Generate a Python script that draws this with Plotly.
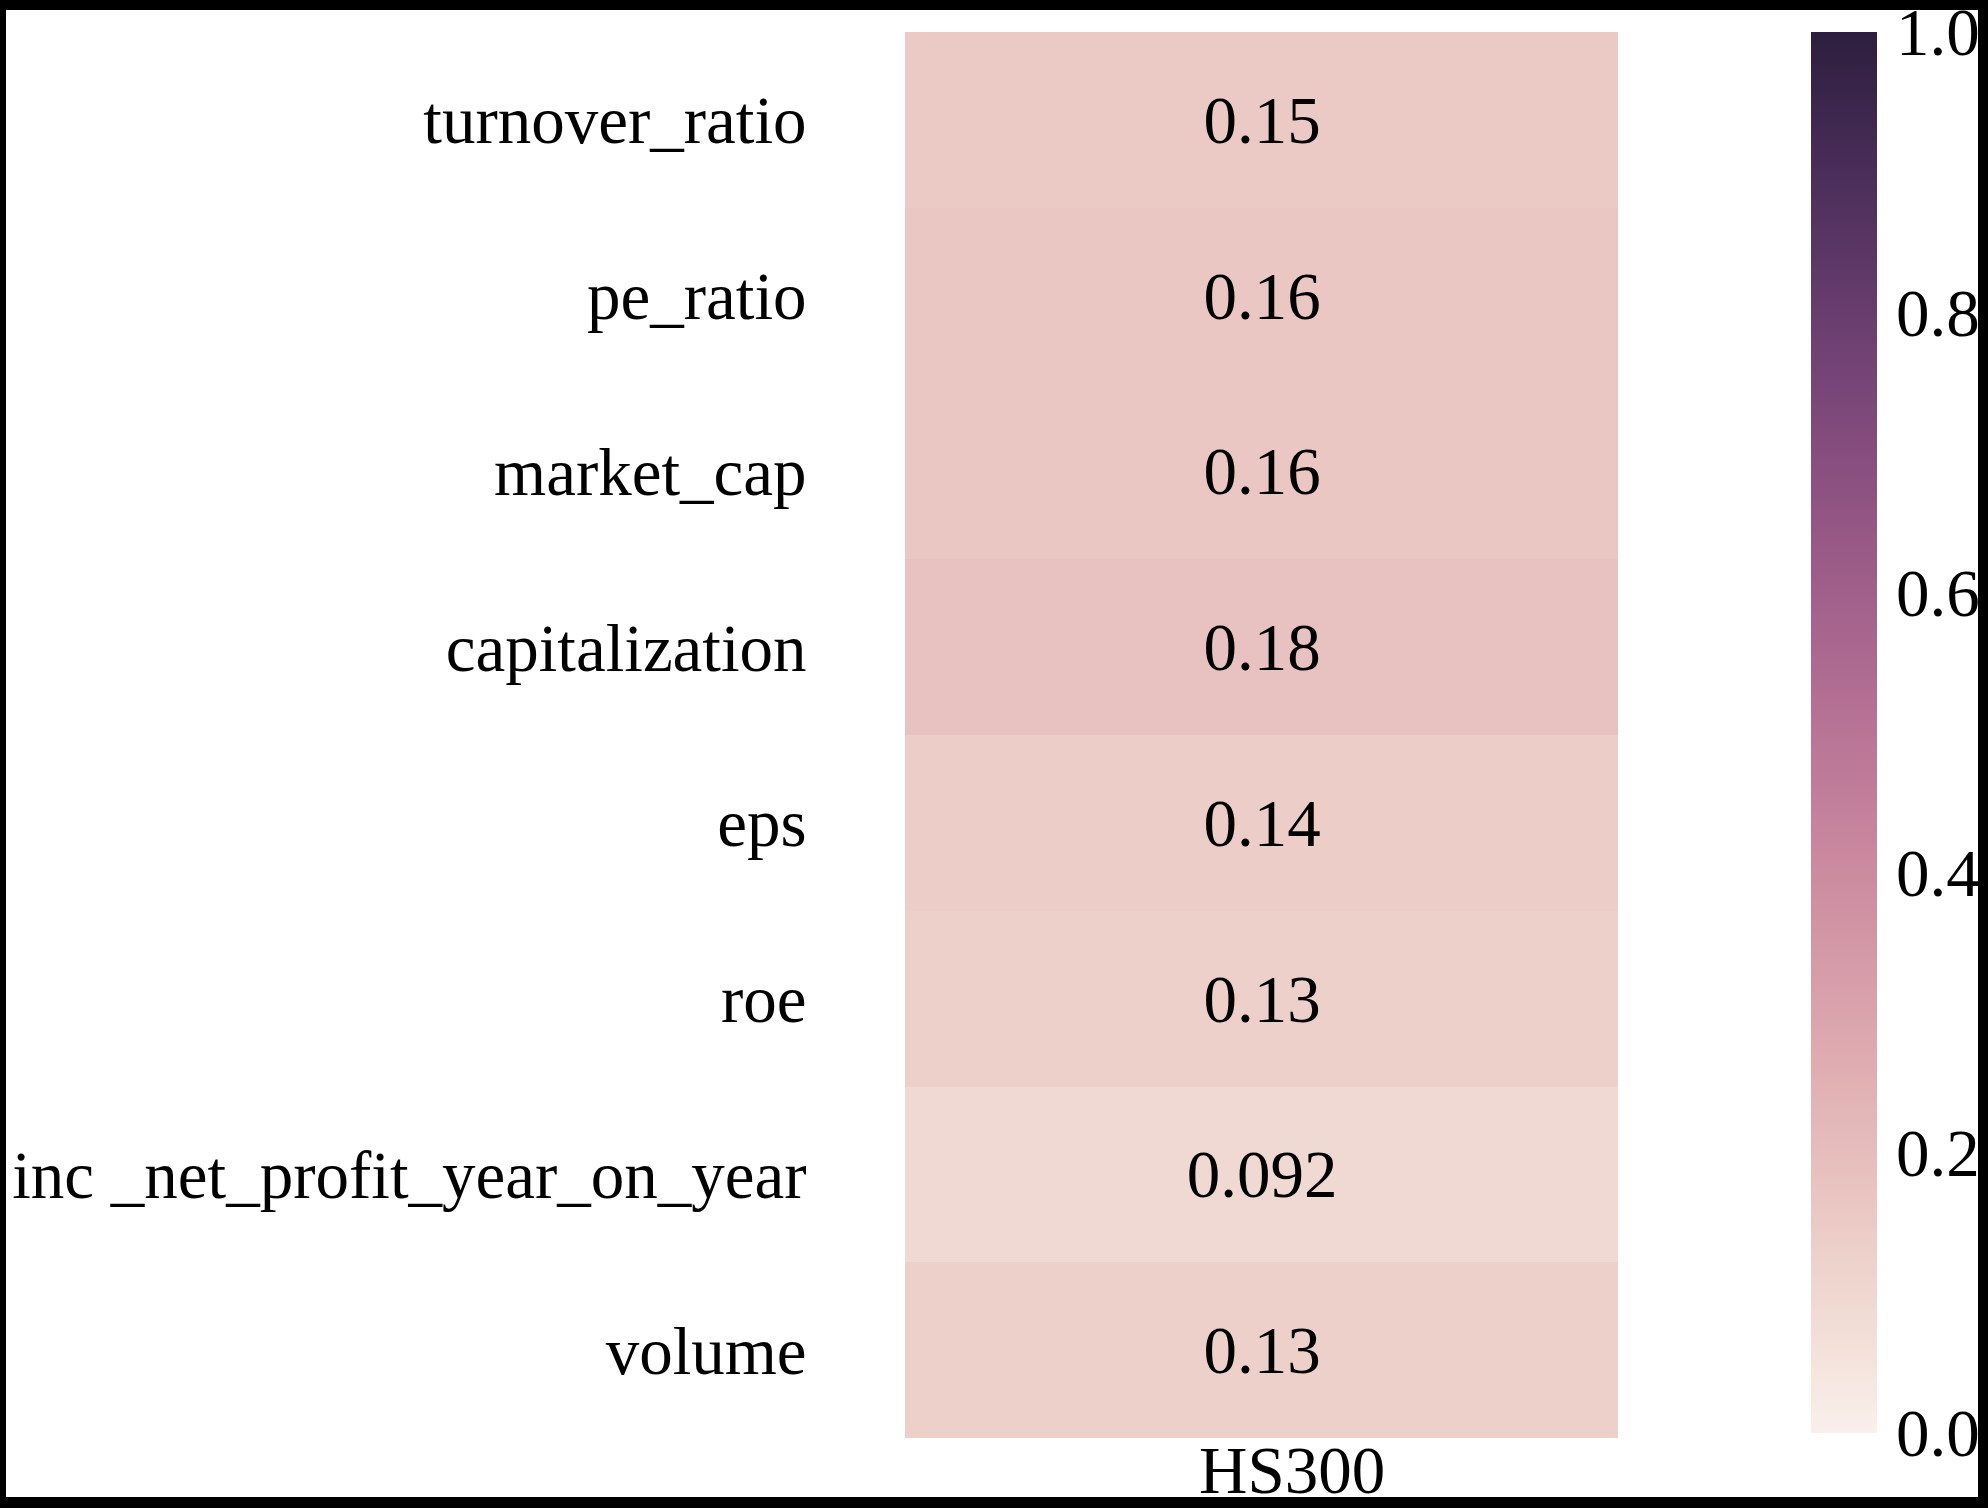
import numpy as np
import plotly.graph_objects as go

# ==========================================================
# DATA
# ==========================================================

factors = [
    "turnover_ratio",
    "pe_ratio",
    "market_cap",
    "capitalization",
    "eps",
    "roe",
    "inc _net_profit_year_on_year",
    "volume",
]
index_names = ["HS300"]
ic_values = [0.15, 0.16, 0.16, 0.18, 0.14, 0.13, 0.092, 0.13]
cbar_ticks = [0.0, 0.2, 0.4, 0.6, 0.8, 1.0]
cbar_labels = ["0.0", "0.2", "0.4", "0.6", "0.8", "1.0"]


# ==========================================================
# COLOUR SCALE (seaborn-style cubehelix, light -> dark)
# ==========================================================

def cubehelix_scale(n=32, start=0.0, rot=0.4, gamma=1.0, hue=0.8,
                    light=0.95, dark=0.15):
    scale = []
    for i, x in enumerate(np.linspace(light, dark, n)):
        xg = x ** gamma
        a = hue * xg * (1 - xg) / 2
        phi = 2 * np.pi * (start / 3 + rot * x)
        r = xg + a * (-0.14861 * np.cos(phi) + 1.78277 * np.sin(phi))
        g = xg + a * (-0.29227 * np.cos(phi) - 0.90649 * np.sin(phi))
        b = xg + a * (1.97294 * np.cos(phi))
        rgb = [int(round(255 * min(max(c, 0), 1))) for c in (r, g, b)]
        scale.append([i / (n - 1), "rgb({},{},{})".format(*rgb)])
    return scale


# ==========================================================
# FIGURE
# ==========================================================

W, H = 1988, 1508
L, R, T, B = 905, 370, 32, 70
pw, ph = W - L - R, H - T - B
SERIF = "Liberation Serif"
FS = 67

fig = go.Figure()

fig.add_trace(
    go.Heatmap(
        z=[[v] for v in ic_values],
        x=index_names,
        y=factors,
        zmin=0,
        zmax=1,
        colorscale=cubehelix_scale(),
        texttemplate="%{z:.2g}",
        textfont=dict(size=FS, color="black", family=SERIF),
        colorbar=dict(
            x=(1811 - L) / pw,
            xanchor="left",
            xpad=0,
            y=1,
            yanchor="top",
            ypad=0,
            len=(1433 - T) / ph,
            lenmode="fraction",
            thickness=66,
            thicknessmode="pixels",
            outlinewidth=0,
            tickvals=cbar_ticks,
            ticktext=cbar_labels,
            ticks="outside",
            ticklen=6,
            tickcolor="rgba(0,0,0,0)",
            ticklabeloverflow="allow",
            tickfont=dict(size=FS, color="black", family=SERIF),
        ),
    )
)

# Column label placed as text under the heatmap
fig.add_annotation(
    text=index_names[0],
    xref="paper", yref="paper",
    x=(1292 - L) / pw, y=(H - B - 1431) / ph,
    xanchor="center", yanchor="top",
    showarrow=False,
    font=dict(size=FS, color="black", family=SERIF),
)


# Black frame round the picture
def px_rect(x0, y0, x1, y1):
    return dict(
        type="rect", xref="paper", yref="paper", layer="above",
        x0=(x0 - L) / pw, x1=(x1 - L) / pw,
        y0=(H - B - y0) / ph, y1=(H - B - y1) / ph,
        fillcolor="black", line=dict(width=0),
    )


fig.update_layout(
    width=W,
    height=H,
    margin=dict(l=L, r=R, t=T, b=B, autoexpand=False),
    paper_bgcolor="white",
    plot_bgcolor="white",
    font=dict(family=SERIF, color="black", size=FS),
    shapes=[
        px_rect(0, 0, W, 10),
        px_rect(0, 1497, W, H),
        px_rect(0, 0, 6, H),
        px_rect(1978, 0, W, H),
    ],
    xaxis=dict(showticklabels=False, ticks="", showgrid=False, zeroline=False),
    yaxis=dict(
        autorange="reversed",
        ticks="outside",
        ticklen=84,
        tickcolor="rgba(0,0,0,0)",
        showgrid=False,
        zeroline=False,
        tickfont=dict(size=FS, family=SERIF, color="black"),
    ),
)

fig.write_html(
    "out.html",
    config={"displayModeBar": False},
    post_script="document.body.style.margin='0';",
)
